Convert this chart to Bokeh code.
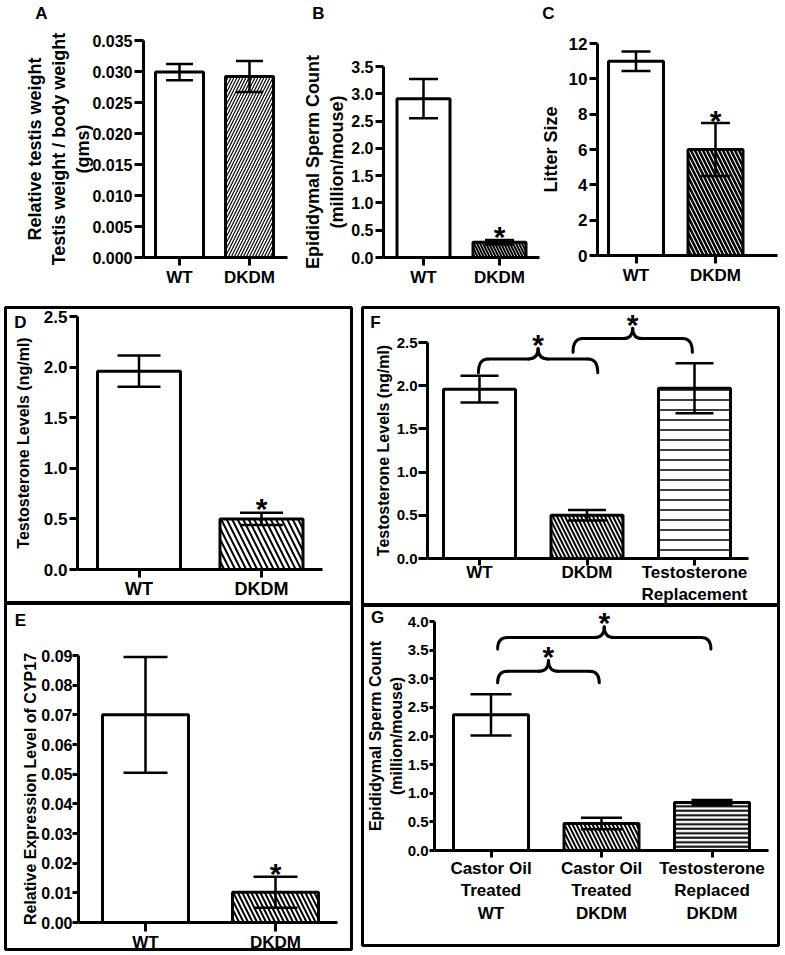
from bokeh.plotting import figure
from bokeh.models import (Range1d, FixedTicker, Whisker, TeeHead, ColumnDataSource)
from bokeh.layouts import row, column
from bokeh.core.properties import value
from bokeh.embed import file_html
from bokeh.resources import INLINE

FONT = "Liberation Sans"

# ---------------- data ----------------
a_categories = ["WT", "DKDM"]
a_means = [0.0299, 0.0292]
a_sem = [0.0013, 0.0025]
a_significant = [False, False]
a_yticks = [0.0, 0.005, 0.010, 0.015, 0.020, 0.025, 0.030, 0.035]
a_yticklabels = ["0.000", "0.005", "0.010", "0.015", "0.020", "0.025", "0.030", "0.035"]

b_categories = ["WT", "DKDM"]
b_means = [2.91, 0.28]
b_sem = [0.36, 0.04]
b_significant = [False, True]
b_yticks = [0.0, 0.5, 1.0, 1.5, 2.0, 2.5, 3.0, 3.5]
b_yticklabels = ["0.0", "0.5", "1.0", "1.5", "2.0", "2.5", "3.0", "3.5"]

c_categories = ["WT", "DKDM"]
c_means = [11.0, 6.0]
c_sem = [0.55, 1.5]
c_significant = [False, True]
c_yticks = [0, 2, 4, 6, 8, 10, 12]
c_yticklabels = ["0", "2", "4", "6", "8", "10", "12"]

d_categories = ["WT", "DKDM"]
d_means = [1.96, 0.50]
d_sem = [0.155, 0.06]
d_significant = [False, True]
d_yticks = [0.0, 0.5, 1.0, 1.5, 2.0, 2.5]
d_yticklabels = ["0.0", "0.5", "1.0", "1.5", "2.0", "2.5"]

e_categories = ["WT", "DKDM"]
e_means = [0.070, 0.0102]
e_sem = [0.0195, 0.0052]
e_significant = [False, True]
e_yticks = [0.0, 0.01, 0.02, 0.03, 0.04, 0.05, 0.06, 0.07, 0.08, 0.09]
e_yticklabels = ["0.00", "0.01", "0.02", "0.03", "0.04", "0.05", "0.06", "0.07", "0.08", "0.09"]

f_categories = ["WT", "DKDM", "Testosterone\nReplacement"]
f_means = [1.96, 0.50, 1.97]
f_sem = [0.155, 0.06, 0.29]
f_significant = [False, False, False]
f_comparisons = [(0, 1), (1, 2)]
f_yticks = [0.0, 0.5, 1.0, 1.5, 2.0, 2.5]
f_yticklabels = ["0.0", "0.5", "1.0", "1.5", "2.0", "2.5"]

g_categories = ["Castor Oil\nTreated\nWT", "Castor Oil\nTreated\nDKDM", "Testosterone\nReplaced\nDKDM"]
g_means = [2.37, 0.47, 0.84]
g_sem = [0.36, 0.10, 0.04]
g_significant = [False, False, False]
g_comparisons = [(0, 1), (0, 2)]
g_yticks = [0.0, 0.5, 1.0, 1.5, 2.0, 2.5, 3.0, 3.5, 4.0]
g_yticklabels = ["0.0", "0.5", "1.0", "1.5", "2.0", "2.5", "3.0", "3.5", "4.0"]


class Panel:
    """Figure whose frame fills the canvas; axes are drawn at fixed locations inside it."""

    def __init__(self, W, H, borders, yaxis_px, y0_px, ytop_px, ytop, c1_px, step_px,
                 xaxis_end_px, boxed):
        self.l, self.r, self.t, self.b = borders
        self.c1, self.step = c1_px, step_px
        self.y0 = y0_px
        self.ppu = (y0_px - ytop_px) / ytop
        xr = (self.px2x(self.l), self.px2x(W - self.r))
        yr = (self.py2y(H - self.b), self.py2y(self.t))
        p = figure(width=W, height=H, x_range=Range1d(*xr), y_range=Range1d(*yr),
                   output_backend="svg", toolbar_location=None,
                   min_border_left=self.l, min_border_right=self.r,
                   min_border_top=self.t, min_border_bottom=self.b)
        p.xgrid.visible = False
        p.ygrid.visible = False
        p.background_fill_color = "white"
        p.border_fill_color = "white"
        if boxed:
            p.outline_line_color = "black"
            p.outline_line_width = 3
            p.outline_line_alpha = 1
        else:
            p.outline_line_color = None
        self.p = p
        self.ytop = ytop
        self.yaxis_x = self.px2x(yaxis_px)
        self.xaxis_end = self.px2x(xaxis_end_px)

    def px2x(self, px):
        return 1 + (px - self.c1) / self.step

    def py2y(self, py):
        return (self.y0 - py) / self.ppu

    def bars(self, cats, means, sem, sig, bar_px, cap, hatches, star_offset=0):
        p = self.p
        pos = [i + 1 for i in range(len(cats))]
        bw = bar_px / self.step
        for i, x in enumerate(pos):
            h = hatches[i]
            kw = dict(fill_color="white", line_color="black", line_width=3)
            if h is not None:
                kw.update(hatch_pattern=h[0], hatch_scale=h[1], hatch_weight=h[2],
                          hatch_color="black")
            p.vbar(x=[x], top=[means[i]], bottom=0, width=bw, **kw)
        src = ColumnDataSource(dict(x=pos,
                                    upper=[m + s for m, s in zip(means, sem)],
                                    lower=[m - s for m, s in zip(means, sem)]))
        p.add_layout(Whisker(source=src, base="x", upper="upper", lower="lower",
                             line_width=2.5, line_color="black", level="annotation",
                             upper_head=TeeHead(size=cap, line_width=2.5, line_color="black"),
                             lower_head=TeeHead(size=cap, line_width=2.5, line_color="black")))
        sx = [x for x, s in zip(pos, sig) if s]
        sy = [m + e for m, e, s in zip(means, sem, sig) if s]
        if sx:
            p.text(x=sx, y=sy, text=["*"] * len(sx), text_align="center",
                   text_baseline="alphabetic", y_offset=star_offset, text_font=value(FONT),
                   text_font_style="bold", text_font_size="30px", text_color="black")
        self.pos = pos
        return pos

    def axes(self, cats, yticks, yticklabels, ylabel, ytick_fs, xtick_fs, ylabel_fs,
             ytick_out=8, ytick_standoff=2, ylabel_standoff=2, xtick_out=8, xtick_standoff=2):
        xa = self.p.xaxis[0]
        ya = self.p.yaxis[0]
        for ax in (xa, ya):
            ax.axis_line_width = 3
            ax.axis_line_color = "black"
            ax.major_tick_line_width = 3
            ax.major_tick_line_color = "black"
            ax.major_tick_in = 0
            ax.minor_tick_line_color = None
            ax.major_label_text_font = FONT
            ax.major_label_text_font_style = "bold"
            ax.major_label_text_color = "black"
            ax.axis_label_text_font = FONT
            ax.axis_label_text_font_style = "bold"
            ax.axis_label_text_color = "black"
        ya.fixed_location = self.yaxis_x
        ya.bounds = (0, self.ytop)
        ya.ticker = FixedTicker(ticks=yticks)
        ya.major_label_overrides = {tk: lb for tk, lb in zip(yticks, yticklabels)}
        ya.major_label_text_font_size = ytick_fs
        ya.major_tick_out = ytick_out
        ya.major_label_standoff = ytick_standoff
        ya.axis_label = ylabel
        ya.axis_label_text_font_size = ylabel_fs
        ya.axis_label_standoff = ylabel_standoff
        xa.fixed_location = 0
        xa.bounds = (self.yaxis_x, self.xaxis_end)
        xa.ticker = FixedTicker(ticks=self.pos)
        xa.major_label_overrides = {x: c for x, c in zip(self.pos, cats)}
        xa.major_label_text_font_size = xtick_fs
        xa.major_tick_out = xtick_out
        xa.major_label_standoff = xtick_standoff

    def letter(self, txt, px, py):
        self.p.text(x=[self.px2x(px)], y=[self.py2y(py)], text=[txt], text_align="center",
                    text_baseline="middle", text_font=value(FONT), text_font_style="bold",
                    text_font_size="17px", text_color="black")

    def brace(self, xl, xr, y_end, y_flat, y_peak, rx=0.09, star_offset=-4):
        xm = (xl + xr) / 2
        kw = dict(line_color="black", line_width=3, line_cap="round")
        self.p.quadratic(x0=[xl, xm - rx, xm, xr - rx], y0=[y_end, y_flat, y_peak, y_flat],
                         x1=[xl + rx, xm, xm + rx, xr], y1=[y_flat, y_peak, y_flat, y_end],
                         cx=[xl, xm, xm, xr], cy=[y_flat] * 4, **kw)
        self.p.segment(x0=[xl + rx, xm + rx], y0=[y_flat, y_flat],
                       x1=[xm - rx, xr - rx], y1=[y_flat, y_flat], **kw)
        self.p.text(x=[xm], y=[y_peak], text=["*"], text_align="center",
                    text_baseline="alphabetic", y_offset=star_offset, text_font=value(FONT),
                    text_font_style="bold", text_font_size="30px", text_color="black")


# ---------------- panel A (page x 0..290, y 0..304) ----------------
A = Panel(290, 304, (0, 0, 0, 0), yaxis_px=143, y0_px=257, ytop_px=40, ytop=0.035,
          c1_px=179, step_px=70, xaxis_end_px=287, boxed=False)
A.bars(a_categories, a_means, a_sem, a_significant, 48, 27, [None, ("/", 6, 1.2)])
A.axes(a_categories, a_yticks, a_yticklabels,
       "Relative testis weight\nTestis weight / body weight\n(gms)",
       "16px", "17px", "18px", ytick_out=9, ylabel_standoff=-4)
A.letter("A", 41, 13)

# ---------------- panel B (page x 290..541) ----------------
B = Panel(251, 304, (0, 0, 0, 0), yaxis_px=93, y0_px=257, ytop_px=66, ytop=3.5,
          c1_px=133, step_px=76, xaxis_end_px=249, boxed=False)
B.bars(b_categories, b_means, b_sem, b_significant, 53, 29, [None, ("\\", 6, 2)], star_offset=-4)
B.axes(b_categories, b_yticks, b_yticklabels, "Epididymal Sperm Count\n(million/mouse)",
       "16px", "17px", "18px", ylabel_standoff=1)
B.letter("B", 28, 13)

# ---------------- panel C (page x 541..784) ----------------
C = Panel(243, 304, (0, 0, 0, 0), yaxis_px=56, y0_px=255, ytop_px=43, ytop=12,
          c1_px=94.5, step_px=79.5, xaxis_end_px=236, boxed=False)
C.bars(c_categories, c_means, c_sem, c_significant, 55, 29, [None, ("\\", 8, 2.5)], star_offset=-3)
C.axes(c_categories, c_yticks, c_yticklabels, "Litter Size",
       "17px", "17px", "18px", ylabel_standoff=5)
C.letter("C", 7, 13)

# ---------------- panel D (page x 0..356, y 304..603) ----------------
D = Panel(356, 299, (5, 5, 3, 0), yaxis_px=77, y0_px=265, ytop_px=12, ytop=2.5,
          c1_px=138.5, step_px=122.5, xaxis_end_px=322, boxed=True)
D.bars(d_categories, d_means, d_sem, d_significant, 83, 43, [None, ("\\", 11, 2)], star_offset=-4)
D.axes(d_categories, d_yticks, d_yticklabels, "Testosterone Levels (ng/ml)",
       "17px", "18px", "16px", ylabel_standoff=9, xtick_standoff=1)
D.letter("D", 20, 18)

# ---------------- panel E (page x 0..356, y 603..954) ----------------
E = Panel(356, 351, (5, 5, 0, 5), yaxis_px=78, y0_px=319, ytop_px=52, ytop=0.09,
          c1_px=145, step_px=130, xaxis_end_px=337, boxed=True)
E.bars(e_categories, e_means, e_sem, e_significant, 86, 44, [None, ("\\", 9, 2)], star_offset=-3)
E.axes(e_categories, e_yticks, e_yticklabels, "Relative Expression Level of CYP17",
       "16px", "17px", "16px", ytick_out=6, ytick_standoff=0, ylabel_standoff=-1,
       xtick_out=9, xtick_standoff=1)
E.letter("E", 20, 17)

# ---------------- panel F (page x 356..784, y 304..605) ----------------
F = Panel(428, 301, (6, 6, 3, 0), yaxis_px=71, y0_px=254, ytop_px=38, ytop=2.5,
          c1_px=123, step_px=107.5, xaxis_end_px=392, boxed=True)
f_pos = F.bars(f_categories, f_means, f_sem, f_significant, 72, 38,
               [None, ("\\", 8, 2), ("-", 10, 1.5)])
F.axes(f_categories, f_yticks, f_yticklabels, "Testosterone Levels (ng/ml)",
       "15px", "17px", "16px", ytick_out=9, ytick_standoff=1, ylabel_standoff=2,
       xtick_out=7, xtick_standoff=-3)
F.letter("F", 19, 18)
f_brace_span = [(-0.01, 0.10), (-0.13, -0.02)]
f_brace_flat = [2.31, 2.546]
for (i, j), (dl, dr), yf in zip(f_comparisons, f_brace_span, f_brace_flat):
    F.brace(f_pos[i] + dl, f_pos[j] + dr, yf - 0.16, yf, yf + 0.12)

# ---------------- panel G (page x 356..784, y 605..954) ----------------
G = Panel(428, 349, (6, 6, 0, 9), yaxis_px=78, y0_px=245, ytop_px=16, ytop=4.0,
          c1_px=134.5, step_px=110.5, xaxis_end_px=412, boxed=True)
g_pos = G.bars(g_categories, g_means, g_sem, g_significant, 75, 41,
               [None, ("\\", 8, 2), ("-", 4.5, 2)])
G.axes(g_categories, g_yticks, g_yticklabels, "Epididymal Sperm Count\n(million/mouse)",
       "15px", "17px", "16px", ytick_out=5, ytick_standoff=1, ylabel_standoff=0,
       xtick_out=7, xtick_standoff=1)
G.letter("G", 21, 12)
g_brace_span = [(0.06, -0.02), (0.06, -0.01)]
g_brace_flat = [3.13, 3.72]
for (i, j), (dl, dr), yf in zip(g_comparisons, g_brace_span, g_brace_flat):
    G.brace(g_pos[i] + dl, g_pos[j] + dr, yf - 0.2, yf, yf + 0.19)

layout = column(
    row(A.p, B.p, C.p),
    row(column(D.p, E.p), column(F.p, G.p)),
)

open("out.html", "w").write(file_html(layout, INLINE))
